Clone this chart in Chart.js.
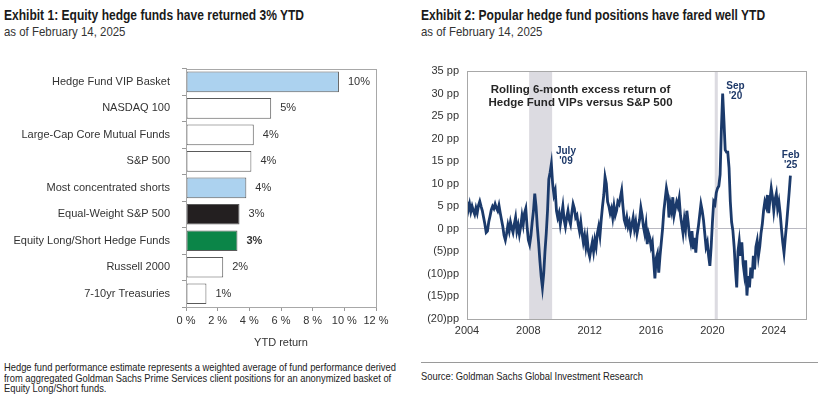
<!DOCTYPE html>
<html>
<head>
<meta charset="utf-8">
<title>Hedge fund exhibits</title>
<script src="https://cdn.jsdelivr.net/npm/chart.js"></script>
<style>
    body { margin: 0; width: 820px; height: 398px; background: #fff; position: relative; overflow: hidden; }
    .title, .sub, .note { position: absolute; font-family: "Liberation Sans Narrow", "Liberation Sans", Arial, sans-serif; white-space: nowrap; transform-origin: 0 0; }
    .title { font-weight: bold; font-size: 14.5px; color: #1a1a1a; transform: scaleX(0.83); }
    .sub { font-size: 13px; color: #333; transform: scaleX(0.88); }
    .note { font-size: 11px; line-height: 10.5px; color: #222; transform: scaleX(0.85); }
    canvas { position: absolute; }
</style>
</head>
<body>
<div class="title" style="left:4px; top:7px;">Exhibit 1: Equity hedge funds have returned 3% YTD</div>
<div class="sub" style="left:4px; top:24px;">as of February 14, 2025</div>
<div class="title" style="left:421px; top:7px;">Exhibit 2: Popular hedge fund positions have fared well YTD</div>
<div class="sub" style="left:421px; top:24px;">as of February 14, 2025</div>

<canvas id="barChart" width="410" height="300" style="left:0; top:50px;"></canvas>
<canvas id="lineChart" width="410" height="300" style="left:410px; top:50px;"></canvas>

<div class="note" style="left:4px; top:362px;">Hedge fund performance estimate represents a weighted average of fund performance derived<br>from aggregated Goldman Sachs Prime Services client positions for an anonymized basket of<br>Equity Long/Short funds.</div>
<div style="position:absolute; left:421px; top:362px; width:397px; border-top:1px solid #9a9a9a;"></div>
<div class="note" style="left:421px; top:371px;">Source: Goldman Sachs Global Investment Research</div>

<script>
// ---- Exhibit 1 data ----
const categories = ['Hedge Fund VIP Basket', 'NASDAQ 100', 'Large-Cap Core Mutual Funds', 'S&P 500',
    'Most concentrated shorts', 'Equal-Weight S&P 500', 'Equity Long/Short Hedge Funds', 'Russell 2000', '7-10yr Treasuries'];
const ytdReturn = [9.66, 5.38, 4.28, 4.13, 3.81, 3.38, 3.25, 2.35, 1.29];
const ytdLabels = ['10%', '5%', '4%', '4%', '4%', '3%', '3%', '2%', '1%'];
const barColors = ['#acd2ef', '#ffffff', '#ffffff', '#ffffff', '#acd2ef', '#231f20', '#0b8548', '#ffffff', '#ffffff'];
const boldLabel = 6;

// ---- Exhibit 2 data: monthly, Jan 2004 .. Feb 2025 (pp) ----
const startYear = 2004;
const excessReturn = [
    6.0, 4.2, 5.5, 3.8, 5.0, 4.0, 3.2, 4.6, 3.5, 5.2, 6.1, 5.0,         // 2004
    4.0, 2.5, 1.0, -0.8, -0.5, 1.5, 2.8, 4.2, 5.0, 4.5, 5.5, 4.6,       // 2005
    4.0, 5.2, 3.5, 2.0, 0.5, -1.5, -2.5, -1.0, 0.8, -0.5, 1.5, 0.2,     // 2006
    -0.8, 1.0, 2.5, -0.5, 0.8, -1.2, 0.5, 2.8, 1.0, 3.5, 4.5, 0.5,      // 2007
    -2.5, -3.5, -1.5, 1.5, 4.0, 7.8, 5.0, 0.5, -3.0, -7.0, -10.5, -13.0, // 2008
    -10.0, -5.0, -1.0, 4.0, 11.0, 12.5, 14.4, 10.0, 7.5, 8.5, 4.0, 2.5, // 2009
    3.5, 1.0, 3.0, 5.0, 2.0, 0.5, 2.5, 4.0, 2.0, 1.0, 3.5, 5.5,         // 2010
    4.5, 2.5, 3.0, 1.0, -0.5, 1.5, -1.0, -3.0, -1.5, -4.0, -2.0, -5.0,  // 2011
    -6.2, -4.5, -3.0, -5.0, -2.5, -4.0, -1.0, 0.5, -1.5, 2.0, 5.0, 7.5, // 2012
    11.5, 10.0, 6.0, 5.0, 3.5, 4.5, 2.5, 5.0, 3.0, 4.0, 6.0, 5.5,       // 2013
    7.0, 8.5, 5.0, 2.0, 1.0, 2.5, 0.5, 1.5, -0.5, 1.0, 2.5, 0.0,        // 2014
    1.5, -1.0, 0.5, 2.0, 4.7, 3.0, 0.5, -1.0, 1.0, -3.4, -1.0, -2.0,    // 2015
    -4.0, -3.0, -7.0, -11.0, -6.5, -5.5, -9.7, -6.0, -3.0, 0.0, 4.0, 6.5, // 2016
    9.0, 7.5, 2.5, 5.5, 4.0, 7.0, 3.0, 4.5, 6.0, 5.0, 6.7, 3.0,         // 2017
    1.0, -1.0, 2.0, 0.0, 4.0, 1.5, -1.5, -3.0, -0.5, -4.5, -2.0, -5.3,  // 2018
    -1.5, 0.5, 3.0, 5.5, 4.0, 2.0, -1.0, -4.0, -3.0, -6.0, -8.2, -4.0,  // 2019
    1.5, 6.0, 5.5, 8.0, 9.0, 9.5, 12.0, 22.0, 30.0, 24.0, 17.5, 17.0,   // 2020
    17.0, 13.5, 6.0, 1.5, -0.4, -4.0, -9.0, -13.0, -5.0, -2.7, -6.0, -3.0, // 2021
    -7.7, -10.0, -7.0, -14.8, -10.5, -13.0, -8.6, -11.0, -6.0, -9.0, -4.0, -2.6, // 2022
    -6.0, -4.0, -1.0, 1.0, 4.0, 6.0, 5.0, 7.5, 3.5, 6.5, 9.0, 7.0,      // 2023
    4.0, 6.5, 7.8, 4.5, 6.0, 3.4, 0.0, -3.0, -5.3, -2.0, 1.0, 4.5,      // 2024
    8.0, 11.8                                                            // 2025
];
const yearTicks = [2004, 2008, 2012, 2016, 2020, 2024];
const recessions = [[2008.05, 2009.55], [2020.15, 2020.35]];
const callouts = [
    { lines: ['July', "'09"], x: 2010.45, y: 17.2 },
    { lines: ['Sep', "'20"], x: 2021.5, y: 31.7 },
    { lines: ['Feb', "'25"], x: 2025.1, y: 16.3 }
];
const boxNote = { lines: ['Rolling 6-month excess return of', 'Hedge Fund VIPs versus S&P 500'], x: 2011.4, y: 30.8 };

const sansFont = '"Liberation Sans", Arial, sans-serif';

const framePlugin = {
    id: 'frame',
    afterDraw(chart) {
        const a = chart.chartArea, ctx = chart.ctx;
        ctx.save();
        ctx.strokeStyle = '#a8a8a8';
        ctx.lineWidth = 1;
        ctx.strokeRect(Math.round(a.left) + 0.5, Math.round(a.top) + 0.5, Math.round(a.right - a.left), Math.round(a.bottom - a.top));
        ctx.restore();
    }
};

// ---- Exhibit 1 ----
const barValueLabels = {
    id: 'barValueLabels',
    afterDatasetsDraw(chart) {
        const ctx = chart.ctx;
        const meta = chart.getDatasetMeta(0);
        ctx.save();
        ctx.textBaseline = 'middle';
        ctx.textAlign = 'left';
        ctx.fillStyle = '#333';
        meta.data.forEach((bar, i) => {
            ctx.font = (i === boldLabel ? 'bold ' : '') + '11px ' + sansFont;
            ctx.fillText(ytdLabels[i], bar.x + 9, bar.y);
        });
        ctx.restore();
    }
};

new Chart(document.getElementById('barChart'), {
    type: 'bar',
    data: {
        labels: categories,
        datasets: [{
            data: ytdReturn,
            backgroundColor: barColors,
            borderColor: '#5a5a5a',
            borderWidth: 1,
            borderSkipped: false,
            barPercentage: 0.78,
            categoryPercentage: 1
        }]
    },
    options: {
        indexAxis: 'y',
        responsive: false,
        animation: false,
        layout: { padding: { left: 0, right: 34, top: 15, bottom: 0 } },
        plugins: { legend: { display: false }, tooltip: { enabled: false } },
        scales: {
            x: {
                min: 0, max: 12,
                ticks: { stepSize: 2, callback: v => v + ' %', color: '#333', font: { family: sansFont, size: 11 }, padding: 3 },
                grid: { drawOnChartArea: false, tickLength: 4, color: '#999' },
                border: { color: '#a8a8a8' },
                title: { display: true, text: 'YTD return', color: '#333', font: { family: sansFont, size: 11 }, padding: 0 },
                afterFit: s => { s.height = 43; }
            },
            y: {
                ticks: { color: '#333', font: { family: sansFont, size: 11 }, padding: 12 },
                grid: { drawOnChartArea: false, tickLength: 4, color: '#999' },
                border: { color: '#a8a8a8' },
                afterFit: s => { s.width = 186; }
            }
        }
    },
    plugins: [framePlugin, barValueLabels]
});

// ---- Exhibit 2 ----
const linePoints = excessReturn.map((v, i) => ({ x: startYear + i / 12, y: v }));

const recessionShade = {
    id: 'recessionShade',
    beforeDatasetsDraw(chart) {
        const ctx = chart.ctx, a = chart.chartArea, xs = chart.scales.x;
        ctx.save();
        ctx.fillStyle = '#dcdbe1';
        recessions.forEach(([s, e]) => {
            const x0 = xs.getPixelForValue(s), x1 = xs.getPixelForValue(e);
            ctx.fillRect(x0, a.top, x1 - x0, a.bottom - a.top);
        });
        ctx.restore();
    }
};

const lineNotes = {
    id: 'lineNotes',
    afterDatasetsDraw(chart) {
        const ctx = chart.ctx, xs = chart.scales.x, ys = chart.scales.y;
        ctx.save();
        ctx.textAlign = 'center';
        ctx.textBaseline = 'middle';
        ctx.fillStyle = '#1d3868';
        ctx.font = 'bold 10px ' + sansFont;
        callouts.forEach(c => {
            const x = xs.getPixelForValue(c.x), y = ys.getPixelForValue(c.y);
            c.lines.forEach((t, k) => ctx.fillText(t, x, y + k * 10));
        });
        ctx.fillStyle = '#262626';
        ctx.font = 'bold 11.5px ' + sansFont;
        const bx = xs.getPixelForValue(boxNote.x), by = ys.getPixelForValue(boxNote.y);
        boxNote.lines.forEach((t, k) => ctx.fillText(t, bx, by + k * 13));
        ctx.restore();
    }
};

new Chart(document.getElementById('lineChart'), {
    type: 'line',
    data: {
        datasets: [{
            data: linePoints,
            borderColor: '#1b3a6b',
            borderWidth: 2.8,
            pointRadius: 0,
            tension: 0
        }]
    },
    options: {
        responsive: false,
        animation: false,
        layout: { padding: { left: 0, right: 14, top: 21, bottom: 0 } },
        plugins: { legend: { display: false }, tooltip: { enabled: false } },
        scales: {
            x: {
                type: 'linear',
                min: 2004, max: 2026.1,
                ticks: { stepSize: 4, color: '#333', font: { family: sansFont, size: 11 }, padding: 5, callback: v => String(v) },
                afterBuildTicks: s => { s.ticks = yearTicks.map(v => ({ value: v })); },
                grid: { drawOnChartArea: false, drawTicks: false },
                border: { color: '#a8a8a8' },
                afterFit: s => { s.height = 31; }
            },
            y: {
                min: -20, max: 35,
                ticks: {
                    stepSize: 5, color: '#333', font: { family: sansFont, size: 11 }, padding: 8,
                    callback: v => v < 0 ? '(' + (-v) + ')pp' : v + ' pp'
                },
                grid: { drawTicks: false, color: c => c.tick && c.tick.value === 0 ? '#b9b9c2' : 'rgba(0,0,0,0)' },
                border: { color: '#a8a8a8' },
                afterFit: s => { s.width = 57; }
            }
        }
    },
    plugins: [recessionShade, framePlugin, lineNotes]
});
</script>
</body>
</html>
